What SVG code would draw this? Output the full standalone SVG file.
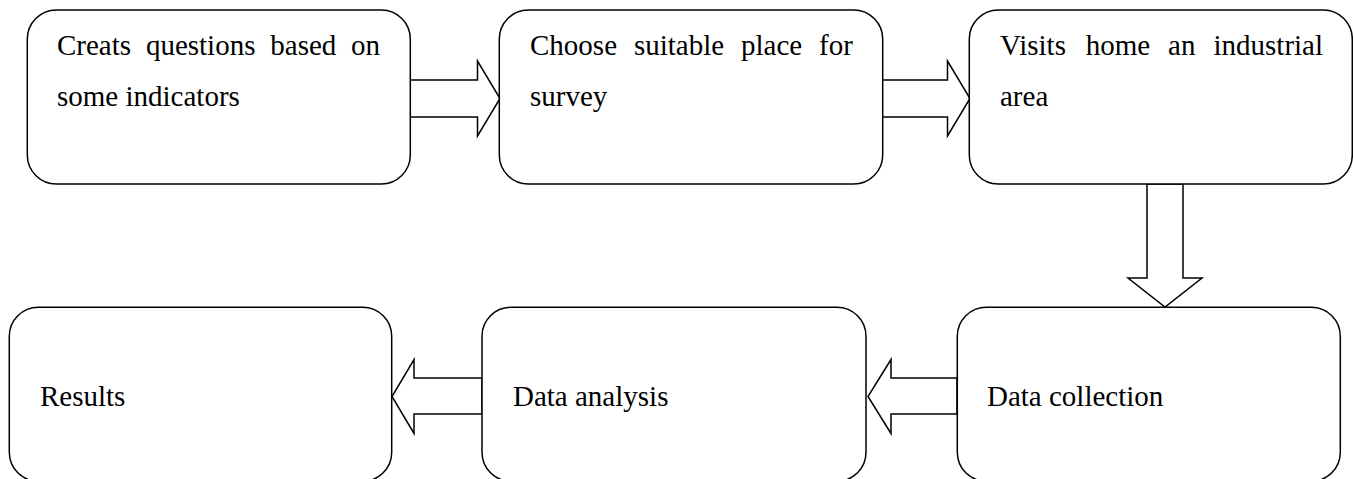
<svg xmlns="http://www.w3.org/2000/svg" width="1353" height="479" viewBox="0 0 1353 479">
<style>
.box{fill:#fff;stroke:#000;stroke-width:1.5}
.arr{fill:#fff;stroke:#000;stroke-width:1.5;stroke-linejoin:miter}
text{font-family:"Liberation Serif","Times New Roman",serif;font-size:29px;fill:#000}
</style>
<rect width="1353" height="479" fill="#fff"/>
<g id="connectors">
<polygon class="arr" points="409.5,80 477.5,80 477.5,61 500,98.5 477.5,136 477.5,117 409.5,117"/>
<polygon class="arr" points="879.5,80 947.5,80 947.5,61 970,98.5 947.5,136 947.5,117 879.5,117"/>
<polygon class="arr" points="1147,184 1183,184 1183,278 1202,278 1165,307 1128,278 1147,278"/>
<polygon class="arr" points="482,378 414,378 414,359.5 392,396.5 414,433.5 414,414 482,414"/>
<polygon class="arr" points="957,378 891,378 891,359.5 868,396.5 891,433.5 891,414 957,414"/>
</g>
<g id="n1">
<rect class="box" x="27.3" y="10" width="383" height="174" rx="29"/>
<text y="55"><tspan x="57">Creats</tspan><tspan x="145.9">questions</tspan><tspan x="270.3">based</tspan><tspan x="351.1">on</tspan></text>
<text x="57" y="106">some indicators</text>
</g>
<g id="n2">
<rect class="box" x="499.3" y="10" width="383.4" height="174" rx="29"/>
<text y="55"><tspan x="530">Choose</tspan><tspan x="633.9">suitable</tspan><tspan x="741">place</tspan><tspan x="819.1">for</tspan></text>
<text x="530" y="106">survey</text>
</g>
<g id="n3">
<rect class="box" x="969.3" y="10" width="383" height="174" rx="29"/>
<text y="55"><tspan x="1000">Visits</tspan><tspan x="1085.7">home</tspan><tspan x="1168.1">an</tspan><tspan x="1213.5">industrial</tspan></text>
<text x="1000" y="106">area</text>
</g>
<g id="n4">
<rect class="box" x="957.3" y="307.3" width="383" height="174" rx="29"/>
<text x="987" y="406">Data collection</text>
</g>
<g id="n5">
<rect class="box" x="482" y="307.3" width="384" height="174" rx="29"/>
<text x="513" y="406">Data analysis</text>
</g>
<g id="n6">
<rect class="box" x="9.3" y="307.3" width="382.4" height="174" rx="29"/>
<text x="40" y="406">Results</text>
</g>
</svg>
